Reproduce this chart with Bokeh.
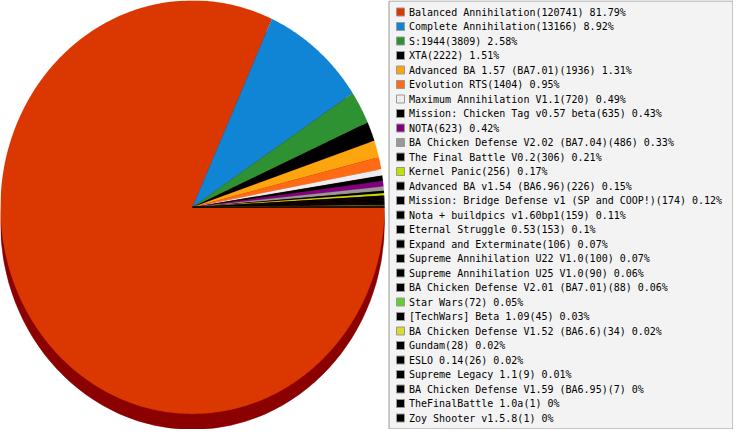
import numpy as np
from bokeh.plotting import figure
from bokeh.models import Range1d
from bokeh.core.properties import value
from bokeh.embed import file_html
from bokeh.resources import INLINE

# ---- data ----
names = [
    "Balanced Annihilation", "Complete Annihilation", "S:1944", "XTA",
    "Advanced BA 1.57 (BA7.01)", "Evolution RTS", "Maximum Annihilation V1.1",
    "Mission: Chicken Tag v0.57 beta", "NOTA", "BA Chicken Defense V2.02 (BA7.04)",
    "The Final Battle V0.2", "Kernel Panic", "Advanced BA v1.54 (BA6.96)",
    "Mission: Bridge Defense v1 (SP and COOP!)", "Nota + buildpics v1.60bp1",
    "Eternal Struggle 0.53", "Expand and Exterminate", "Supreme Annihilation U22 V1.0",
    "Supreme Annihilation U25 V1.0", "BA Chicken Defense V2.01 (BA7.01)", "Star Wars",
    "[TechWars] Beta 1.09", "BA Chicken Defense V1.52 (BA6.6)", "Gundam", "ESLO 0.14",
    "Supreme Legacy 1.1", "BA Chicken Defense V1.59 (BA6.95)", "TheFinalBattle 1.0a",
    "Zoy Shooter v1.5.8",
]
counts = [120741, 13166, 3809, 2222, 1936, 1404, 720, 635, 623, 486, 306, 256, 226,
          174, 159, 153, 106, 100, 90, 88, 72, 45, 34, 28, 26, 9, 7, 1, 1]
percents = [81.79, 8.92, 2.58, 1.51, 1.31, 0.95, 0.49, 0.43, 0.42, 0.33, 0.21, 0.17,
            0.15, 0.12, 0.11, 0.1, 0.07, 0.07, 0.06, 0.06, 0.05, 0.03, 0.02, 0.02,
            0.02, 0.01, 0, 0, 0]
colors = ["#DA3800", "#1185D5", "#2E9233", "#000000", "#FDA50F", "#FF6A14", "#EEEEEE",
          "#000000", "#800080", "#999999", "#000000", "#BFE100", "#000000", "#000000",
          "#000000", "#000000", "#000000", "#000000", "#000000", "#000000", "#66CC33",
          "#000000", "#D9DC2B", "#000000", "#000000", "#000000", "#000000", "#000000",
          "#000000"]
labels = [f"{n}({c}) {p:g}%" for n, c, p in zip(names, counts, percents)]

# ---- layout (pixel units) ----
W, H = 733, 429
cx, cy = 192.0, 206.7
rx, ry = 192.0, 206.7
depth = 15.5
shadow = "#8B0000"

p = figure(width=W, height=H, output_backend="svg", toolbar_location=None,
           x_range=Range1d(0, W), y_range=Range1d(H, 0), min_border=0,
           background_fill_color="white", border_fill_color="white")
p.axis.visible = False
p.grid.visible = False
p.outline_line_color = None

# shadow (3D depth)
p.ellipse(x=[cx], y=[cy + depth], width=[2 * rx], height=[2 * ry],
          fill_color=shadow, line_color=shadow, line_width=0.5)

# pie slices, clockwise from 3 o'clock, on an ellipse
vals = np.array(counts, dtype=float)
cum = np.concatenate([[0.0], np.cumsum(vals) / vals.sum()])
xs, ys = [], []
for i in range(len(vals)):
    a0, a1 = -2 * np.pi * cum[i], -2 * np.pi * cum[i + 1]
    n = max(2, int(abs(a1 - a0) / (2 * np.pi) * 720) + 2)
    th = np.linspace(a0, a1, n)
    xs.append(np.concatenate([[cx], cx + rx * np.cos(th)]).tolist())
    ys.append(np.concatenate([[cy], cy - ry * np.sin(th)]).tolist())
p.patches(xs=xs, ys=ys, fill_color=colors, line_color=colors, line_width=0.15)

# legend box
bx0, bx1, by0, by1 = 388.5, 732.5, 0.5, 428.5
p.quad(left=[bx0], right=[bx1], top=[by0], bottom=[by1],
       fill_color="#F3F3F3", line_color="#999999", line_width=1)

row0, step = 11.5, 14.5
rows = row0 + step * np.arange(len(names))
p.rect(x=[bx0 + 11.5] * len(names), y=rows.tolist(), width=8, height=8,
       fill_color=colors, line_color="#999999", line_width=1)
p.text(x=[bx0 + 20] * len(names), y=rows.tolist(), text=labels,
       text_font=value("DejaVu Sans Mono"), text_font_size="10px",
       text_baseline="middle", text_align="left", text_color="#000000")

open("out.html", "w").write(file_html(p, INLINE))
